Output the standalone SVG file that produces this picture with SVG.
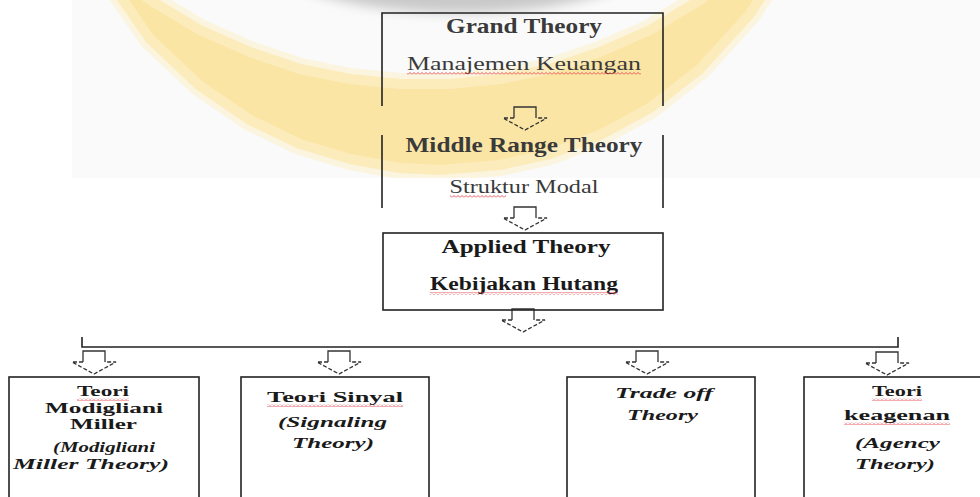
<svg xmlns="http://www.w3.org/2000/svg" width="980" height="497" viewBox="0 0 980 497">
<style>
.box{fill:none;stroke:#222;stroke-width:1.6}
.ln{fill:none;stroke:#222;stroke-width:1.6}
.t{font-family:"Liberation Serif","Times New Roman",serif;fill:#1a1a1a;text-anchor:middle}
.b{font-weight:bold}
.i{font-style:italic}
.top{fill:#3a3a3a}
.sm{font-size:15.5px}
.sh{fill:none;stroke:#333;stroke-width:1.3}
.hd{fill:none;stroke:#333;stroke-width:1.3;stroke-dasharray:4 2}
</style>
<defs>
<clipPath id="wmclip"><rect x="72" y="0" width="908" height="178"/></clipPath>
<filter id="blur2" filterUnits="userSpaceOnUse" x="200" y="-150" width="520" height="200"><feGaussianBlur stdDeviation="6"/></filter>
<pattern id="sq" width="4" height="3" patternUnits="userSpaceOnUse"><path d="M0,2.5 L2,0.5 L4,2.5" stroke="#e0303a" stroke-width="0.8" fill="none"/></pattern>
<path id="ringshape" d="M100,-33 L150,39 L200,86 L250,120 L300,144 L350,159 L400,168 L440,170 L500,165 L550,154 L600,135 L650,108 L700,69 L750,14 L780,-33 L730,-22 L700,0 L650,30 L600,52 L550,69 L500,79 L450,84 L400,84 L350,79 L300,69 L250,52 L200,30 L150,0 L120,-22 Z"/>
<g id="arr"><path class="sh" d="M-11,11 V0 H11 V11"/><path class="hd" d="M-11,11 H-22 L0,23 L22,11 H11"/></g>
</defs>
<rect width="980" height="497" fill="#fff"/>
<g id="watermark" clip-path="url(#wmclip)">
<rect x="72" y="0" width="908" height="178" fill="#fafafa"/>
<use href="#ringshape" fill="none" stroke="#fcf0cc" stroke-width="22" stroke-linejoin="round" opacity="0.6"/>
<use href="#ringshape" fill="#fbe5a4" stroke="#fcecbc" stroke-width="10" stroke-linejoin="round"/>
<ellipse cx="460" cy="-50" rx="200" ry="63" fill="#c9c9c9" filter="url(#blur2)"/>
</g>
<g id="connectors">
<path class="ln" d="M82,337 V347 H898 V337"/>
<use href="#arr" x="525" y="107"/>
<use href="#arr" x="525" y="207"/>
<use href="#arr" x="523" y="309"/>
<use href="#arr" x="94" y="351"/>
<use href="#arr" x="339" y="351"/>
<use href="#arr" x="647" y="351"/>
<use href="#arr" x="887" y="352"/>
</g>
<g id="grand-theory">
<path class="ln" d="M382,106 V13 H663 V106"/>
<text class="t b top" x="524" y="33" font-size="20" textLength="156" lengthAdjust="spacingAndGlyphs">Grand Theory</text>
<text class="t top" x="524" y="70" font-size="18" textLength="234" lengthAdjust="spacingAndGlyphs">Manajemen Keuangan</text>
<rect x="407" y="72" width="234" height="3" fill="url(#sq)"/>
</g>
<g id="middle-range-theory">
<path class="ln" d="M382,135 V208 M663,135 V208"/>
<text class="t b top" x="524" y="152" font-size="20" textLength="237" lengthAdjust="spacingAndGlyphs">Middle Range Theory</text>
<text class="t top" x="524" y="193" font-size="19" textLength="149" lengthAdjust="spacingAndGlyphs">Struktur Modal</text>
<rect x="450" y="195" width="56" height="3" fill="url(#sq)"/>
</g>
<g id="applied-theory">
<rect class="box" x="383" y="233" width="280" height="77"/>
<text class="t b" x="526" y="253" font-size="19" textLength="169" lengthAdjust="spacingAndGlyphs">Applied Theory</text>
<text class="t b" x="524" y="290" font-size="18" textLength="188" lengthAdjust="spacingAndGlyphs" fill="#3a1a1a">Kebijakan Hutang</text>
<rect x="430" y="292" width="188" height="3" fill="url(#sq)"/>
</g>
<g id="teori-mm">
<rect class="box" x="9" y="377" width="190" height="140"/>
<text class="t b sm" x="103" y="396" textLength="52" lengthAdjust="spacingAndGlyphs">Teori</text>
<rect x="77" y="398" width="52" height="3" fill="url(#sq)"/>
<text class="t b sm" x="104" y="413" textLength="118" lengthAdjust="spacingAndGlyphs">Modigliani</text>
<text class="t b sm" x="103.5" y="429" textLength="67" lengthAdjust="spacingAndGlyphs">Miller</text>
<text class="t b i sm" x="104" y="452" textLength="102" lengthAdjust="spacingAndGlyphs">(Modigliani</text>
<text class="t b i sm" x="91" y="469" textLength="156" lengthAdjust="spacingAndGlyphs">Miller Theory)</text>
</g>
<g id="teori-sinyal">
<rect class="box" x="241" y="377" width="188" height="140"/>
<text class="t b sm" x="335" y="402" textLength="136" lengthAdjust="spacingAndGlyphs" fill="#2a1414">Teori Sinyal</text>
<rect x="267" y="404" width="136" height="3" fill="url(#sq)"/>
<text class="t b i sm" x="332.5" y="427" textLength="109" lengthAdjust="spacingAndGlyphs">(Signaling</text>
<text class="t b i sm" x="333" y="448" textLength="82" lengthAdjust="spacingAndGlyphs">Theory)</text>
</g>
<g id="trade-off">
<rect class="box" x="567" y="377" width="188" height="140"/>
<text class="t b i sm" x="664" y="398" textLength="98" lengthAdjust="spacingAndGlyphs">Trade off</text>
<text class="t b i sm" x="662.5" y="420" textLength="71" lengthAdjust="spacingAndGlyphs">Theory</text>
</g>
<g id="teori-keagenan">
<rect class="box" x="804" y="377" width="190" height="140"/>
<text class="t b sm" x="897" y="396" textLength="50" lengthAdjust="spacingAndGlyphs">Teori</text>
<rect x="872" y="398" width="50" height="3" fill="url(#sq)"/>
<text class="t b sm" x="897" y="420" textLength="106" lengthAdjust="spacingAndGlyphs">keagenan</text>
<rect x="844" y="422" width="106" height="3" fill="url(#sq)"/>
<text class="t b i sm" x="897.5" y="448" textLength="85" lengthAdjust="spacingAndGlyphs">(Agency</text>
<text class="t b i sm" x="895" y="469" textLength="80" lengthAdjust="spacingAndGlyphs">Theory)</text>
</g>
</svg>
